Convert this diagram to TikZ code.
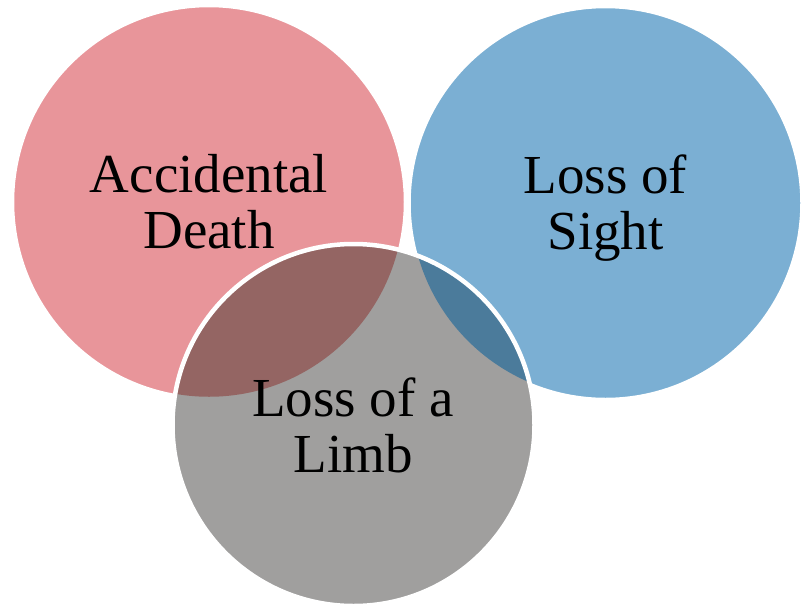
\documentclass[tikz,border=0pt]{standalone}
\usepackage{fontspec}
\setmainfont{Liberation Serif}
\definecolor{redc}{RGB}{232,149,154}
\definecolor{bluec}{RGB}{123,175,211}
\definecolor{grayc}{RGB}{160,159,158}
\definecolor{rgc}{RGB}{148,101,99}
\definecolor{bgc}{RGB}{75,123,155}
\tikzset{
  border/.style={draw=white, line width=4.5pt},
  lbl/.style={align=center, inner sep=0pt, font=\fontsize{55}{56}\selectfont, text=black, anchor=base}
}
\begin{document}
\begin{tikzpicture}[x=1pt,y=-1pt]
\useasboundingbox (0,0) rectangle (803,603);
\coordinate (cr) at (209,202);
\coordinate (cb) at (605.5,203);
\coordinate (cg) at (353.5,425);
% red circle
\fill[redc] (cr) circle[radius=197pt];
\draw[border] (cr) circle[radius=197pt];
% blue circle
\fill[bluec] (cb) circle[radius=197pt];
\draw[border] (cb) circle[radius=197pt];
% gray circle with overlaps
\fill[grayc] (cg) circle[radius=181pt];
\begin{scope}
  \clip (cr) circle[radius=194.75pt];
  \fill[rgc] (cg) circle[radius=181pt];
\end{scope}
\begin{scope}
  \clip (cb) circle[radius=194.75pt];
  \fill[bgc] (cg) circle[radius=181pt];
\end{scope}
\draw[border] (cg) circle[radius=181pt];
% labels (anchor at baseline of last line)
\node[lbl] (t1) at (209,248) {Accidental\\Death};
\node[lbl] (t2) at (605.5,249) {Loss of\\Sight};
\node[lbl] (t3) at (353,472) {Loss of a\\Limb};
\end{tikzpicture}
\end{document}
